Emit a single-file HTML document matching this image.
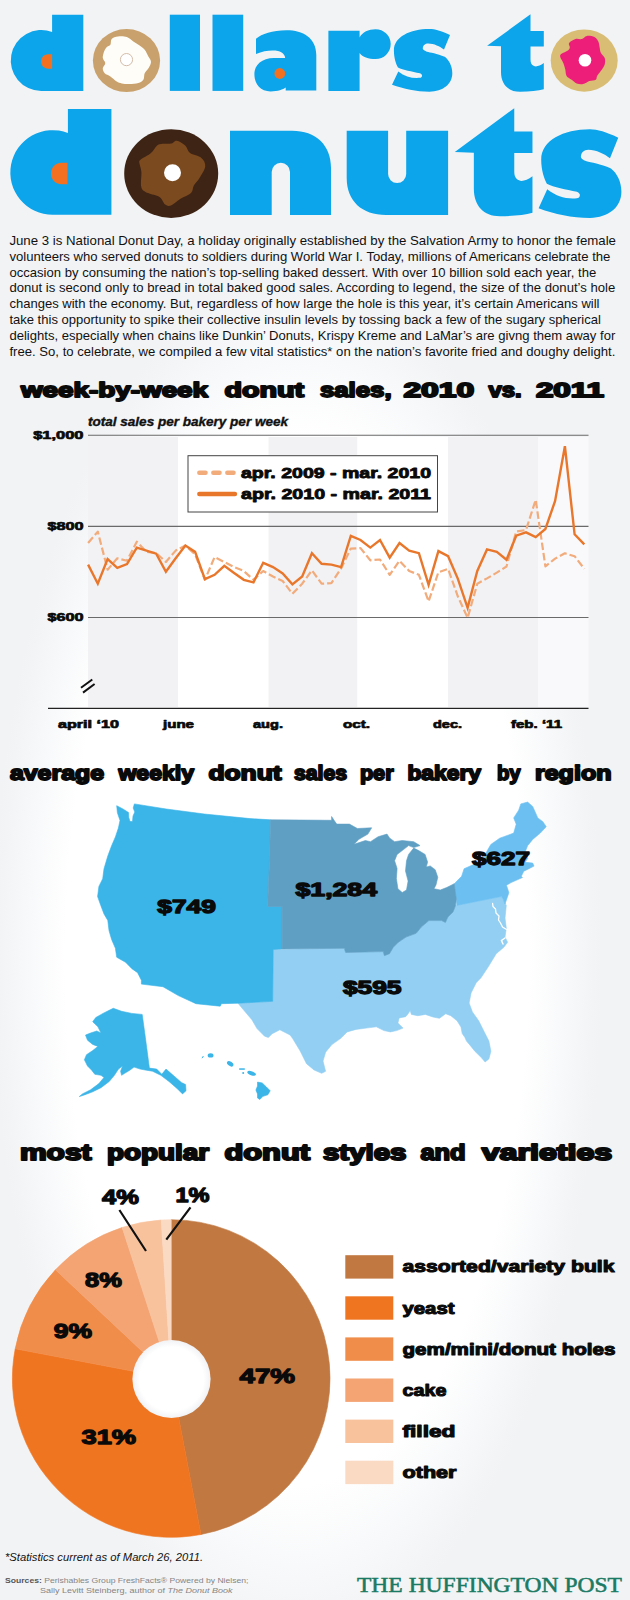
<!DOCTYPE html>
<html><head><meta charset="utf-8"><title>dollars to donuts</title>
<style>
html,body{margin:0;padding:0;background:#fff;}
body{width:630px;height:1600px;overflow:hidden;font-family:"Liberation Sans",sans-serif;}
svg{display:block}
text{font-family:"Liberation Sans",sans-serif;}
.h{font-weight:bold;fill:#0a0a0a;stroke:#0a0a0a;stroke-linejoin:round;}
.serif{font-family:"Liberation Serif",serif;}
</style></head><body>
<svg width="630" height="1600" viewBox="0 0 630 1600">
<defs>
<radialGradient id="bg" gradientUnits="userSpaceOnUse" cx="0" cy="0" r="1" gradientTransform="translate(297 960) scale(305 690)">
<stop offset="0" stop-color="#ffffff"/><stop offset="0.76" stop-color="#ffffff"/><stop offset="0.86" stop-color="#f9fafb"/><stop offset="0.97" stop-color="#f3f4f6"/><stop offset="1" stop-color="#f2f3f5"/>
</radialGradient>
</defs>
<rect width="630" height="1600" fill="url(#bg)"/>
<g id="title">
<g fill="#0ca4ea">
<path d="M83.3 14.7 L52.1 14.7 L52.1 32 A30.45 30.45 0 1 0 41.2 90.9 L83.3 90.9 Z"/>
<rect x="169.8" y="14.7" width="30.2" height="76.2"/>
<rect x="212.5" y="14.7" width="30.7" height="76.2"/>
<path d="M316.3 90.6 L316.3 55 C316.3 38 303 30.3 286.5 30.3 C272 30.3 262 34 256 38.7 L256 54.1 C264 50.5 272 50 278 51 C283 52.5 285 55 285.2 58.1 L274 58.1 C262 58.1 254.4 65 254.4 74 C254.4 85 261 91.4 270.6 91.4 C278 91.4 283 89.5 285.7 87.5 L285.7 90.6 Z"/>
<path d="M328.4 30.7 L359.6 30.7 L359.6 37.5 C362.5 32 368.5 29.2 375.5 29.2 A15.2 14.9 0 0 1 375.5 59 C368.5 59 362.5 57 359.6 53 L359.6 91 L328.4 91 Z"/>
<path d="M450 35 C441 31 435 29.1 429.4 29.1 C410 29.1 393.9 37 393.9 50.5 C393.9 58 396 64 398 67.5 C403 70 412 71.5 419.9 73.3 C421.5 74 422.1 75 422.1 75.5 C422 77 421 77.8 419.9 77.8 C412 78.5 405 76.5 398.3 71.4 L392 84.8 C404 89 416 91.7 429.4 91.7 C443 91.7 452.3 84 452.3 73.3 C452.3 66 449 60 444.7 56.8 C437 53.5 430 52.5 426.9 51.7 C424 50.5 422.8 49.5 422.8 48.6 C422.8 45.5 425 43.5 428.2 43.5 C434 43.5 440 46.5 444 49.5 Z"/>
<path d="M530.5 14.3 L487.1 45.7 L501 46.2 L501 72 C501 84 508 91.7 520 91.7 C530 91.7 538 91 543.8 89.3 L543.8 63.1 C540 66 536 67 534 66 C531.5 65 530.5 63 530.5 59.5 L530.5 46.4 L543.8 46.4 L543.8 31 L530.5 31 Z"/>
<path d="M83.3 14.7 L52.1 14.7 L52.1 32 A30.45 30.45 0 1 0 41.2 90.9 L83.3 90.9 Z" transform="matrix(1.3940 0 0 1.3900 -4.72 88.45)"/>
<path d="M230 130.7 L292 130.7 C316 130.7 331 145 331 168 L331 215 L290 215 L290 172 A9.15 9.15 0 0 0 271.7 172 L271.7 215 L230 215 Z"/>
<path d="M346.7 130.7 L388.1 130.7 L388.1 174 A9.05 9.05 0 0 0 406.2 174 L406.2 130.7 L448.1 130.7 L448.1 215 L386 215 C362 215 346.7 201 346.7 178 Z"/>
<path d="M530.5 14.3 L487.1 45.7 L501 46.2 L501 72 C501 84 508 91.7 520 91.7 C530 91.7 538 91 543.8 89.3 L543.8 63.1 C540 66 536 67 534 66 C531.5 65 530.5 63 530.5 59.5 L530.5 46.4 L543.8 46.4 L543.8 31 L530.5 31 Z" transform="matrix(1.3700 0 0 1.3950 -212.53 88.28)"/>
<path d="M450 35 C441 31 435 29.1 429.4 29.1 C410 29.1 393.9 37 393.9 50.5 C393.9 58 396 64 398 67.5 C403 70 412 71.5 419.9 73.3 C421.5 74 422.1 75 422.1 75.5 C422 77 421 77.8 419.9 77.8 C412 78.5 405 76.5 398.3 71.4 L392 84.8 C404 89 416 91.7 429.4 91.7 C443 91.7 452.3 84 452.3 73.3 C452.3 66 449 60 444.7 56.8 C437 53.5 430 52.5 426.9 51.7 C424 50.5 422.8 49.5 422.8 48.6 C422.8 45.5 425 43.5 428.2 43.5 C434 43.5 440 46.5 444 49.5 Z" transform="matrix(1.3730 0 0 1.4150 0.38 88.14)"/>
</g>
<path d="M52.1 54.3 L48.3 54.3 C43.4 54.3 41.1 58 41.1 61.5 C41.1 65 43.4 68.7 48.3 68.7 L52.1 68.7 Z" fill="#f37021"/>
<path d="M52.1 54.3 L48.3 54.3 C43.4 54.3 41.1 58 41.1 61.5 C41.1 65 43.4 68.7 48.3 68.7 L52.1 68.7 Z" fill="#f37021" transform="matrix(1.5000 0 0 1.5000 -10.65 81.25)"/>
<circle cx="279.8" cy="73.5" r="5.4" fill="#f37021"/>
<ellipse cx="126.5" cy="60.6" rx="33.6" ry="31.5" fill="#c9a16c"/>
<path d="M111.7 39.0 C113.0 37.6 115.5 36.8 118.0 36.5 C120.5 36.2 124.4 36.2 126.9 37.1 C129.5 38.0 131.2 40.2 133.3 41.6 C135.4 43.0 137.7 44.0 139.6 45.4 C141.5 46.8 143.2 47.9 144.7 49.8 C146.2 51.7 147.4 54.8 148.5 56.8 C149.6 58.8 151.0 60.0 151.0 61.9 C151.0 63.8 149.6 66.4 148.5 68.3 C147.4 70.2 145.5 71.4 144.7 73.3 C143.8 75.2 144.5 78.1 143.4 79.7 C142.3 81.3 140.6 82.2 138.3 82.9 C136.0 83.6 132.2 84.0 129.4 84.1 C126.7 84.2 123.9 83.9 121.8 83.5 C119.7 83.1 118.6 82.8 116.7 81.6 C114.8 80.4 112.4 77.9 110.4 76.5 C108.4 75.1 106.0 74.7 104.7 73.3 C103.4 71.9 102.7 70.0 102.8 68.3 C102.9 66.6 105.3 64.9 105.3 63.2 C105.3 61.5 103.0 60.0 102.8 58.1 C102.6 56.2 103.4 53.5 104.0 51.7 C104.6 49.9 105.5 48.4 106.6 47.3 C107.7 46.1 109.6 46.2 110.4 44.8 C111.2 43.4 110.4 40.4 111.7 39.0Z" fill="#fffdf8"/>
<circle cx="126.5" cy="59.6" r="6.1" fill="#fff" stroke="#cdb49f" stroke-width="0.9"/>
<ellipse cx="584.2" cy="60.6" rx="33.5" ry="31.1" fill="#d9bd74"/>
<path d="M569.1 42.9 C570.1 41.5 573.4 39.6 575.5 39.0 C577.6 38.4 579.9 39.5 581.8 39.0 C583.7 38.5 584.8 36.2 586.9 35.9 C589.0 35.6 592.6 36.1 594.5 37.1 C596.4 38.1 597.4 39.9 598.3 41.6 C599.1 43.3 599.2 45.4 599.6 47.3 C600.0 49.2 600.0 51.2 600.9 53.0 C601.8 54.8 604.1 56.2 604.7 58.1 C605.3 60.0 605.3 62.3 604.7 64.4 C604.1 66.5 602.2 68.9 600.9 70.8 C599.6 72.7 598.0 74.4 597.1 75.9 C596.2 77.4 597.1 78.9 595.8 79.7 C594.5 80.5 591.5 80.3 589.4 81.0 C587.3 81.7 585.2 83.7 583.1 84.1 C581.0 84.5 578.6 84.2 576.7 83.5 C574.8 82.8 573.4 81.0 571.7 79.7 C570.0 78.4 567.7 77.6 566.6 75.9 C565.5 74.2 565.8 71.6 565.3 69.5 C564.8 67.4 564.2 65.3 563.4 63.2 C562.5 61.1 560.5 58.4 560.2 56.8 C559.9 55.2 560.2 54.8 561.5 53.7 C562.8 52.7 566.5 51.6 567.9 50.5 C569.3 49.4 569.6 48.6 569.8 47.3 C570.0 46.0 568.1 44.3 569.1 42.9Z" fill="#ed1e79"/>
<circle cx="585" cy="60.3" r="6.3" fill="#fff"/>
<ellipse cx="171.2" cy="173.6" rx="47" ry="44.4" fill="#3e2415"/>
<path d="M140.5 159.8 C142.4 158.1 148.0 155.7 151.0 153.1 C154.0 150.5 155.3 146.1 158.6 144.5 C161.9 142.9 168.0 144.2 171.0 143.6 C174.0 143.0 174.3 140.4 176.7 140.7 C179.1 141.0 183.0 143.4 185.2 145.5 C187.4 147.6 187.3 151.0 190.0 153.1 C192.7 155.2 198.9 155.7 201.4 157.9 C203.9 160.1 205.5 163.1 205.2 166.4 C204.9 169.7 201.4 174.7 199.5 177.9 C197.6 181.1 195.2 183.0 193.8 185.5 C192.4 188.0 193.2 190.9 191.0 193.1 C188.8 195.3 183.8 196.7 180.5 198.8 C177.2 200.9 173.6 204.6 171.0 205.5 C168.4 206.4 167.1 205.9 165.2 204.5 C163.3 203.1 162.3 198.8 159.5 196.9 C156.7 195.0 151.1 194.7 148.1 193.1 C145.1 191.5 142.5 190.9 141.4 187.4 C140.3 183.9 141.7 176.1 141.4 172.1 C141.1 168.1 139.7 165.6 139.5 163.6 C139.3 161.6 138.6 161.6 140.5 159.8Z" fill="#7c4a1f"/>
<circle cx="172.5" cy="172.7" r="8.5" fill="#fff"/>
</g>
<g id="text">
<text x="9.4" y="244.8" font-size="13.2" fill="#111" textLength="606.6" lengthAdjust="spacingAndGlyphs">June 3 is National Donut Day, a holiday originally established by the Salvation Army to honor the female</text>
<text x="9.4" y="260.7" font-size="13.2" fill="#111" textLength="601.0" lengthAdjust="spacingAndGlyphs">volunteers who served donuts to soldiers during World War I. Today, millions of Americans celebrate the</text>
<text x="9.4" y="276.5" font-size="13.2" fill="#111" textLength="586.8" lengthAdjust="spacingAndGlyphs">occasion by consuming the nation’s top-selling baked dessert. With over 10 billion sold each year, the</text>
<text x="9.4" y="292.4" font-size="13.2" fill="#111" textLength="605.9" lengthAdjust="spacingAndGlyphs">donut is second only to bread in total baked good sales. According to legend, the size of the donut’s hole</text>
<text x="9.4" y="308.2" font-size="13.2" fill="#111" textLength="590.1" lengthAdjust="spacingAndGlyphs">changes with the economy. But, regardless of how large the hole is this year, it’s certain Americans will</text>
<text x="9.4" y="324.1" font-size="13.2" fill="#111" textLength="591.4" lengthAdjust="spacingAndGlyphs">take this opportunity to spike their collective insulin levels by tossing back a few of the sugary spherical</text>
<text x="9.4" y="339.9" font-size="13.2" fill="#111" textLength="605.9" lengthAdjust="spacingAndGlyphs">delights, especially when chains like Dunkin’ Donuts, Krispy Kreme and LaMar’s are givng them away for</text>
<text x="9.4" y="355.8" font-size="13.2" fill="#111" textLength="605.9" lengthAdjust="spacingAndGlyphs">free. So, to celebrate, we compiled a few vital statistics* on the nation’s favorite fried and doughy delight.</text>
<text class="h" x="20.9" y="396.6" font-size="20.3" stroke-width="1.8" textLength="187.2" lengthAdjust="spacingAndGlyphs">week-by-week</text>
<text class="h" x="224.4" y="396.6" font-size="20.3" stroke-width="1.8" textLength="79.7" lengthAdjust="spacingAndGlyphs">donut</text>
<text class="h" x="319.9" y="396.6" font-size="20.3" stroke-width="1.8" textLength="71.7" lengthAdjust="spacingAndGlyphs">sales,</text>
<text class="h" x="403.4" y="396.6" font-size="20.3" stroke-width="1.8" textLength="70.7" lengthAdjust="spacingAndGlyphs">2010</text>
<text class="h" x="488.4" y="396.6" font-size="20.3" stroke-width="1.8" textLength="33.2" lengthAdjust="spacingAndGlyphs">vs.</text>
<text class="h" x="535.9" y="396.6" font-size="20.3" stroke-width="1.8" textLength="68.2" lengthAdjust="spacingAndGlyphs">2011</text>
<text class="h" x="9.9" y="780.4" font-size="20.3" stroke-width="1.8" textLength="94.2" lengthAdjust="spacingAndGlyphs">average</text>
<text class="h" x="118.4" y="780.4" font-size="20.3" stroke-width="1.8" textLength="75.7" lengthAdjust="spacingAndGlyphs">weekly</text>
<text class="h" x="208.4" y="780.4" font-size="20.3" stroke-width="1.8" textLength="73.2" lengthAdjust="spacingAndGlyphs">donut</text>
<text class="h" x="293.9" y="780.4" font-size="20.3" stroke-width="1.8" textLength="53.2" lengthAdjust="spacingAndGlyphs">sales</text>
<text class="h" x="359.9" y="780.4" font-size="20.3" stroke-width="1.8" textLength="33.7" lengthAdjust="spacingAndGlyphs">per</text>
<text class="h" x="407.4" y="780.4" font-size="20.3" stroke-width="1.8" textLength="73.7" lengthAdjust="spacingAndGlyphs">bakery</text>
<text class="h" x="496.9" y="780.4" font-size="20.3" stroke-width="1.8" textLength="23.7" lengthAdjust="spacingAndGlyphs">by</text>
<text class="h" x="534.9" y="780.4" font-size="20.3" stroke-width="1.8" textLength="76.7" lengthAdjust="spacingAndGlyphs">region</text>
<text class="h" x="20.0" y="1160.4" font-size="22.6" stroke-width="2" textLength="71.5" lengthAdjust="spacingAndGlyphs">most</text>
<text class="h" x="107.0" y="1160.4" font-size="22.6" stroke-width="2" textLength="102.0" lengthAdjust="spacingAndGlyphs">popular</text>
<text class="h" x="224.5" y="1160.4" font-size="22.6" stroke-width="2" textLength="85.5" lengthAdjust="spacingAndGlyphs">donut</text>
<text class="h" x="323.0" y="1160.4" font-size="22.6" stroke-width="2" textLength="83.4" lengthAdjust="spacingAndGlyphs">styles</text>
<text class="h" x="420.4" y="1160.4" font-size="22.6" stroke-width="2" textLength="45.2" lengthAdjust="spacingAndGlyphs">and</text>
<text class="h" x="481.7" y="1160.4" font-size="22.6" stroke-width="2" textLength="130.5" lengthAdjust="spacingAndGlyphs">varieties</text>
</g>
<g id="chart">
<rect x="88.0" y="437" width="90.0" height="270" fill="#f2f2f5"/>
<rect x="268.3" y="437" width="89.2" height="270" fill="#f2f2f5"/>
<rect x="448.0" y="437" width="90.0" height="270" fill="#f2f2f5"/>
<rect x="178.0" y="437" width="90.3" height="270" fill="#ffffff"/>
<rect x="357.5" y="437" width="90.5" height="270" fill="#ffffff"/>
<rect x="538" y="437" width="50.5" height="270" fill="#f9f9fb"/>
<line x1="88" x2="588.5" y1="435.3" y2="435.3" stroke="#6a6a6a" stroke-width="1.1"/>
<line x1="88" x2="588.5" y1="526.4" y2="526.4" stroke="#6a6a6a" stroke-width="1.1"/>
<line x1="88" x2="588.5" y1="617.5" y2="617.5" stroke="#6a6a6a" stroke-width="1.1"/>
<line x1="48" x2="588.5" y1="708.3" y2="708.3" stroke="#222" stroke-width="1.3"/>
<path d="M81 687.8 L92.3 679.5 M83 692.6 L94.6 684" stroke="#111" stroke-width="2" fill="none"/>
<polyline points="88.1,543.0 97.8,531.6 107.6,569.7 117.3,558.3 127.0,560.8 136.8,541.7 146.5,551.9 156.2,553.0 165.9,562.0 175.7,550.6 185.4,545.6 195.1,554.4 204.9,579.8 214.6,557.0 224.3,562.0 234.1,567.0 243.8,571.0 253.5,579.8 263.2,571.0 273.0,576.5 282.7,581.0 292.4,593.8 302.2,583.7 311.9,570.4 321.6,583.7 331.4,583.1 341.1,568.4 350.8,548.6 360.5,548.1 370.3,560.3 380.0,559.5 389.7,574.8 399.5,560.8 409.2,571.0 418.9,574.8 428.6,601.4 438.4,572.2 448.1,568.9 457.8,596.3 467.6,617.9 477.3,583.7 487.0,578.4 496.8,572.6 506.5,566.5 516.2,531.5 526.0,530.0 535.7,499.8 545.4,566.4 555.1,558.6 564.9,553.3 574.6,556.2 584.3,568.8" fill="none" stroke="#f2ab7b" stroke-width="2.2" stroke-dasharray="7.5 3" stroke-linejoin="round"/>
<polyline points="88.1,564.6 97.8,583.7 107.6,559.0 117.3,567.9 127.0,564.1 136.8,547.6 146.5,550.6 156.2,553.7 165.9,571.7 175.7,558.3 185.4,545.6 195.1,551.9 204.9,579.1 214.6,574.8 224.3,565.9 234.1,573.0 243.8,579.8 253.5,582.4 263.2,562.8 273.0,567.1 282.7,573.5 292.4,584.4 302.2,576.5 311.9,553.2 321.6,563.8 331.4,564.6 341.1,567.1 350.8,535.9 360.5,540.0 370.3,547.6 380.0,540.0 389.7,557.7 399.5,543.0 409.2,550.6 418.9,553.2 428.6,584.9 438.4,551.1 448.1,556.2 457.8,578.6 467.6,607.8 477.3,571.0 487.0,549.4 496.8,551.9 506.5,559.8 516.2,535.7 526.0,532.4 535.7,537.1 545.4,529.0 555.1,501.0 564.9,446.2 574.6,534.3 584.3,544.3" fill="none" stroke="#e9772b" stroke-width="2.4" stroke-linejoin="miter"/>
<rect x="188" y="455.7" width="249.5" height="56.3" fill="#fff" stroke="#444" stroke-width="1"/>
<line x1="199.3" x2="234.5" y1="472.8" y2="472.8" stroke="#f2ab7b" stroke-width="4.4" stroke-dasharray="6.3 7.7" stroke-linecap="round"/>
<line x1="199.3" x2="235" y1="494" y2="494" stroke="#e9772b" stroke-width="4.4" stroke-linecap="round"/>
<text class="h" x="241" y="478" font-size="15.5" stroke-width="0.9" textLength="190" lengthAdjust="spacingAndGlyphs">apr. 2009 - mar. 2010</text>
<text class="h" x="241" y="499" font-size="15.5" stroke-width="0.9" textLength="190" lengthAdjust="spacingAndGlyphs">apr. 2010 - mar. 2011</text>
<text x="88" y="426" font-size="12" font-weight="bold" font-style="italic" fill="#111" stroke="#111" stroke-width="0.35" textLength="200" lengthAdjust="spacingAndGlyphs">total sales per bakery per week</text>
<text class="h" x="33.2" y="438.6" font-size="11.5" stroke-width="0.7" textLength="50.3" lengthAdjust="spacingAndGlyphs">$1,000</text>
<text class="h" x="47.4" y="529.8" font-size="11.5" stroke-width="0.7" textLength="36.1" lengthAdjust="spacingAndGlyphs">$800</text>
<text class="h" x="47.4" y="620.8" font-size="11.5" stroke-width="0.7" textLength="36.1" lengthAdjust="spacingAndGlyphs">$600</text>
<text class="h" x="58" y="728" font-size="11" stroke-width="0.7" textLength="61" lengthAdjust="spacingAndGlyphs">april ‘10</text>
<text class="h" x="163" y="728" font-size="11" stroke-width="0.7" textLength="31" lengthAdjust="spacingAndGlyphs">june</text>
<text class="h" x="253" y="728" font-size="11" stroke-width="0.7" textLength="30" lengthAdjust="spacingAndGlyphs">aug.</text>
<text class="h" x="343" y="728" font-size="11" stroke-width="0.7" textLength="27" lengthAdjust="spacingAndGlyphs">oct.</text>
<text class="h" x="433" y="728" font-size="11" stroke-width="0.7" textLength="29" lengthAdjust="spacingAndGlyphs">dec.</text>
<text class="h" x="511" y="728" font-size="11" stroke-width="0.7" textLength="51" lengthAdjust="spacingAndGlyphs">feb. ‘11</text>
</g>
<g id="map">
<path d="M273.2 949.4 L344.3 948.3 L345.6 952.5 L383.2 951.6 L384.4 955.7 L389.5 953.7 L393.3 947.3 L398.4 942.2 L406.0 937.1 L416.2 933.3 L421.3 927.0 L428.9 920.6 L441.6 920.6 L445.4 922.5 L447.9 917.0 L453.0 912.0 L455.6 905.4 L456.8 905.4 L501.3 896.5 L506.3 905.4 L505.0 918.0 L506.3 928.3 L505.0 937.0 L507.6 942.2 L503.8 947.3 L496.2 953.7 L488.6 966.3 L481.0 977.8 L476.2 982.7 L471.1 992.9 L469.1 1003.0 L472.4 1011.9 L478.7 1020.8 L483.8 1031.0 L488.9 1041.1 L490.9 1051.3 L488.9 1058.9 L485.1 1062.0 L481.3 1057.6 L474.9 1051.3 L469.8 1044.9 L466.5 1041.1 L464.8 1037.3 L462.2 1033.5 L461.0 1027.1 L457.1 1020.8 L450.8 1015.7 L445.7 1013.7 L439.4 1018.3 L433.0 1017.0 L425.4 1014.4 L417.8 1015.7 L411.4 1014.4 L410.2 1010.6 L407.6 1014.4 L405.6 1016.7 L399.2 1017.9 L397.9 1023.0 L403.0 1028.1 L396.7 1030.6 L390.3 1031.9 L384.0 1030.6 L376.3 1026.8 L366.2 1028.1 L356.0 1029.4 L347.1 1031.9 L340.8 1038.3 L331.9 1044.6 L325.6 1052.2 L323.0 1061.1 L325.6 1071.3 L321.7 1073.3 L314.1 1070.0 L306.5 1063.7 L300.2 1051.0 L292.5 1038.3 L290.0 1034.9 L279.8 1029.8 L272.2 1033.7 L268.4 1037.5 L264.6 1036.2 L257.0 1028.6 L251.9 1019.7 L244.3 1010.8 L238.0 1003.2 L272.7 1001.3Z" fill="#92cff3" stroke="#92cff3" stroke-width="0.6" stroke-linejoin="round"/>
<path d="M454.3 883.7 L461.6 876.3 L464.1 868.7 L473.0 864.8 L483.2 861.5 L485.7 853.4 L490.8 844.5 L499.7 838.2 L513.7 833.1 L516.2 824.2 L513.7 817.9 L518.7 810.2 L520.8 803.9 L527.6 802.1 L532.7 806.4 L537.8 817.9 L542.9 821.7 L546.2 826.7 L540.3 833.1 L532.7 839.4 L527.6 845.8 L525.1 852.1 L527.6 858.5 L525.1 862.3 L532.7 863.1 L534.0 866.1 L528.9 868.7 L523.8 871.2 L521.3 876.3 L522.5 877.5 L511.1 882.6 L506.5 885.2 L508.9 892.7 L505.0 904.0 L503.0 899.0 L501.3 896.5 L456.8 905.4 L456.3 899.0Z" fill="#6cc0f1" stroke="#6cc0f1" stroke-width="0.6" stroke-linejoin="round"/>
<path d="M116.7 805.7 L123.0 809.0 L128.5 812.5 L128.8 817.5 L130.0 821.5 L132.5 821.5 L133.0 816.0 L134.8 812.0 L133.2 808.0 L134.4 803.9 L166.2 809.0 L204.3 814.0 L250.0 818.6 L270.6 819.8 L269.4 863.5 L267.6 906.5 L282.1 906.5 L282.1 948.9 L273.2 949.4 L272.7 1001.3 L238.0 1003.2 L221.4 1003.7 L220.2 1006.2 L196.0 1003.7 L178.3 995.6 L163.0 986.7 L141.4 984.1 L141.4 980.3 L137.6 972.7 L131.9 968.7 L125.6 962.3 L116.7 957.2 L115.4 948.3 L111.6 939.4 L109.0 930.6 L107.8 920.4 L104.0 914.0 L100.7 905.2 L97.6 896.6 L98.9 886.4 L102.7 878.8 L104.0 868.7 L107.8 856.0 L111.6 845.8 L115.4 836.9 L118.4 828.0 L120.0 820.4 L117.4 812.8Z" fill="#3bb4e8" stroke="#3bb4e8" stroke-width="0.6" stroke-linejoin="round"/>
<path d="M270.6 819.8 L331.6 820.3 L331.6 816.5 L334.1 820.3 L336.7 824.1 L349.4 824.1 L357.4 828.5 L371.7 827.8 L367.9 834.1 L359.0 839.2 L354.0 844.3 L365.4 840.5 L370.5 841.7 L378.1 836.7 L387.0 834.1 L389.5 837.9 L394.6 841.7 L402.2 840.5 L413.7 841.7 L420.0 845.6 L413.7 847.6 L408.6 845.6 L402.2 850.6 L397.1 854.4 L394.6 860.8 L397.1 868.4 L396.4 878.6 L397.9 888.7 L402.2 892.5 L406.5 890.0 L408.1 881.1 L405.5 871.0 L406.5 860.8 L408.6 854.4 L413.7 848.1 L418.7 850.6 L425.1 854.4 L427.6 862.1 L426.3 867.1 L430.2 865.9 L435.2 869.7 L437.8 877.3 L436.0 884.9 L434.0 888.7 L440.3 890.0 L446.7 887.5 L454.3 883.7 L456.3 899.0 L455.6 905.4 L453.0 912.0 L447.9 917.0 L445.4 922.5 L441.6 920.6 L428.9 920.6 L421.3 927.0 L416.2 933.3 L406.0 937.1 L398.4 942.2 L393.3 947.3 L389.5 953.7 L384.4 955.7 L383.2 951.6 L345.6 952.5 L344.3 948.3 L282.1 948.9 L282.1 906.5 L267.6 906.5 L269.4 863.5Z" fill="#5f9fc4" stroke="#5f9fc4" stroke-width="0.6" stroke-linejoin="round"/>
<path d="M113.3 1008.3 L121.6 1011.3 L131.9 1013.4 L142.2 1014.4 L145.3 1037.1 L149.4 1068.1 L156.7 1069.1 L161.8 1074.3 L166.0 1069.1 L173.2 1075.3 L181.4 1082.5 L185.6 1084.6 L186.0 1090.8 L182.5 1093.9 L177.3 1088.7 L169.0 1081.5 L160.8 1075.3 L152.5 1071.2 L146.4 1070.2 L140.2 1069.1 L134.0 1067.1 L129.8 1070.2 L124.7 1073.3 L121.6 1075.3 L120.6 1071.2 L122.6 1066.0 L118.5 1069.1 L114.4 1075.3 L109.2 1081.5 L101.0 1087.7 L92.7 1091.8 L84.4 1094.9 L79.3 1096.6 L82.4 1093.9 L90.6 1089.8 L98.9 1083.6 L104.0 1077.4 L101.0 1075.3 L94.8 1074.3 L91.7 1070.2 L87.5 1066.0 L84.4 1059.8 L86.5 1054.7 L92.7 1050.6 L97.9 1046.4 L92.7 1044.4 L87.5 1040.2 L85.5 1035.1 L90.6 1033.0 L96.8 1031.0 L101.0 1033.0 L97.9 1026.8 L92.7 1021.7 L95.8 1017.5 L103.0 1013.4 L109.2 1010.3Z" fill="#3bb4e8" stroke="#3bb4e8" stroke-width="0.6" stroke-linejoin="round"/>
<path d="M257.5 1082.1 L262.2 1082.9 L266.2 1086.8 L270.2 1090.8 L267.8 1094.8 L263.0 1096.3 L259.8 1099.5 L257.5 1097.9 L257.5 1094.0 L255.9 1090.0 L257.5 1086.0Z" fill="#3bb4e8" stroke="#3bb4e8" stroke-width="0.6" stroke-linejoin="round"/>
<ellipse cx="210.6" cy="1055.4" rx="2.9" ry="2.2" fill="#3bb4e8"/>
<path d="M202 1058.2 L203.4 1056" stroke="#3bb4e8" stroke-width="1" fill="none"/>
<ellipse cx="230.2" cy="1063.8" rx="3.6" ry="2.2" fill="#3bb4e8" transform="rotate(35 230.2 1063.8)"/>
<rect x="239.2" y="1068.3" width="5.6" height="1.5" fill="#3bb4e8"/>
<circle cx="243.2" cy="1073" r="1" fill="#3bb4e8"/>
<ellipse cx="251.6" cy="1073.3" rx="4.5" ry="2" fill="#3bb4e8" transform="rotate(20 251.6 1073.3)"/>
<path d="M506.5 929.5 L502.5 927 L500.5 923 L498.5 920 L499 916 L496 913 L495.5 909 L493 906.5 L492.6 903.5" stroke="#fff" stroke-width="1.3" fill="none" stroke-linecap="round" stroke-linejoin="round"/>
<path d="M505 938 L501.5 940.5 L503 944" stroke="#fff" stroke-width="1.5" fill="none" stroke-linecap="round"/>
<text class="h" x="157.3" y="912.8" font-size="18.5" stroke-width="1.3" textLength="58.5" lengthAdjust="spacingAndGlyphs">$749</text>
<text class="h" x="295.5" y="896" font-size="18.5" stroke-width="1.3" textLength="81.5" lengthAdjust="spacingAndGlyphs">$1,284</text>
<text class="h" x="343" y="994.1" font-size="18.5" stroke-width="1.3" textLength="58.5" lengthAdjust="spacingAndGlyphs">$595</text>
<text class="h" x="472" y="864.6" font-size="18.5" stroke-width="1.3" textLength="58" lengthAdjust="spacingAndGlyphs">$627</text>
</g>
<g id="pie">
<path d="M171.20 1378.50 L171.20 1219.70 A158.8 158.8 0 0 1 200.96 1534.49 Z" fill="#c17841" stroke="#c17841" stroke-width="0.6"/>
<path d="M171.20 1378.50 L200.96 1534.49 A158.8 158.8 0 0 1 15.21 1348.74 Z" fill="#f07521" stroke="#f07521" stroke-width="0.6"/>
<path d="M171.20 1378.50 L15.21 1348.74 A158.8 158.8 0 0 1 55.44 1269.79 Z" fill="#f18d4a" stroke="#f18d4a" stroke-width="0.6"/>
<path d="M171.20 1378.50 L55.44 1269.79 A158.8 158.8 0 0 1 122.13 1227.47 Z" fill="#f4a473" stroke="#f4a473" stroke-width="0.6"/>
<path d="M171.20 1378.50 L122.13 1227.47 A158.8 158.8 0 0 1 161.23 1220.01 Z" fill="#f8c29d" stroke="#f8c29d" stroke-width="0.6"/>
<path d="M171.20 1378.50 L161.23 1220.01 A158.8 158.8 0 0 1 171.20 1219.70 Z" fill="#fbdac4" stroke="#fbdac4" stroke-width="0.6"/>
<radialGradient id="hole"><stop offset="0" stop-color="#fff"/><stop offset="0.82" stop-color="#fff"/><stop offset="1" stop-color="#f1f2f5"/></radialGradient>
<circle cx="171.5" cy="1379" r="39.1" fill="url(#hole)"/>
<path d="M119.4 1210 L146 1251 M190.5 1207.4 L166.3 1239.7" stroke="#111" stroke-width="2.2" fill="none"/>
<text class="h" x="239.5" y="1383.2" font-size="21" stroke-width="1.3" textLength="55.5" lengthAdjust="spacingAndGlyphs">47%</text>
<text class="h" x="81.5" y="1444.2" font-size="21" stroke-width="1.3" textLength="54.5" lengthAdjust="spacingAndGlyphs">31%</text>
<text class="h" x="53.8" y="1337.5" font-size="21" stroke-width="1.3" textLength="38.2" lengthAdjust="spacingAndGlyphs">9%</text>
<text class="h" x="85" y="1286.9" font-size="21" stroke-width="1.3" textLength="36.8" lengthAdjust="spacingAndGlyphs">8%</text>
<text class="h" x="102" y="1204" font-size="21" stroke-width="1.3" textLength="36.8" lengthAdjust="spacingAndGlyphs">4%</text>
<text class="h" x="175.5" y="1201.8" font-size="21" stroke-width="1.3" textLength="34" lengthAdjust="spacingAndGlyphs">1%</text>
<rect x="345.3" y="1255.2" width="48" height="23.4" fill="#c17841"/>
<text class="h" x="402.5" y="1272.4" font-size="17" stroke-width="1.1" textLength="212" lengthAdjust="spacingAndGlyphs">assorted/variety bulk</text>
<rect x="345.3" y="1296.3" width="48" height="23.4" fill="#f07521"/>
<text class="h" x="402.5" y="1313.5" font-size="17" stroke-width="1.1" textLength="52" lengthAdjust="spacingAndGlyphs">yeast</text>
<rect x="345.3" y="1337.4" width="48" height="23.4" fill="#f18d4a"/>
<text class="h" x="402.5" y="1354.6" font-size="17" stroke-width="1.1" textLength="213" lengthAdjust="spacingAndGlyphs">gem/mini/donut holes</text>
<rect x="345.3" y="1378.5" width="48" height="23.4" fill="#f4a473"/>
<text class="h" x="402.5" y="1395.7" font-size="17" stroke-width="1.1" textLength="44" lengthAdjust="spacingAndGlyphs">cake</text>
<rect x="345.3" y="1419.6" width="48" height="23.4" fill="#f8c29d"/>
<text class="h" x="402.5" y="1436.8" font-size="17" stroke-width="1.1" textLength="53" lengthAdjust="spacingAndGlyphs">filled</text>
<rect x="345.3" y="1460.7" width="48" height="23.4" fill="#fbdac4"/>
<text class="h" x="402.5" y="1477.9" font-size="17" stroke-width="1.1" textLength="54" lengthAdjust="spacingAndGlyphs">other</text>
<text x="5" y="1561" font-size="11.5" font-style="italic" fill="#111" textLength="198" lengthAdjust="spacingAndGlyphs">*Statistics current as of March 26, 2011.</text>
<text x="5" y="1582.8" font-size="7.8" fill="#858585" textLength="243.5" lengthAdjust="spacingAndGlyphs"><tspan font-weight="bold" fill="#555">Sources:</tspan> Perishables Group FreshFacts® Powered by Nielsen;</text>
<text x="40" y="1592.6" font-size="7.8" fill="#858585" textLength="192.5" lengthAdjust="spacingAndGlyphs">Sally Levitt Steinberg, author of <tspan font-style="italic">The Donut Book</tspan></text>
<text class="serif" x="357" y="1592" font-size="20" fill="#1b7a63" stroke="#1b7a63" stroke-width="0.5" textLength="265" lengthAdjust="spacingAndGlyphs">THE HUFFINGTON POST</text>
</g>
</svg>
</body></html>
